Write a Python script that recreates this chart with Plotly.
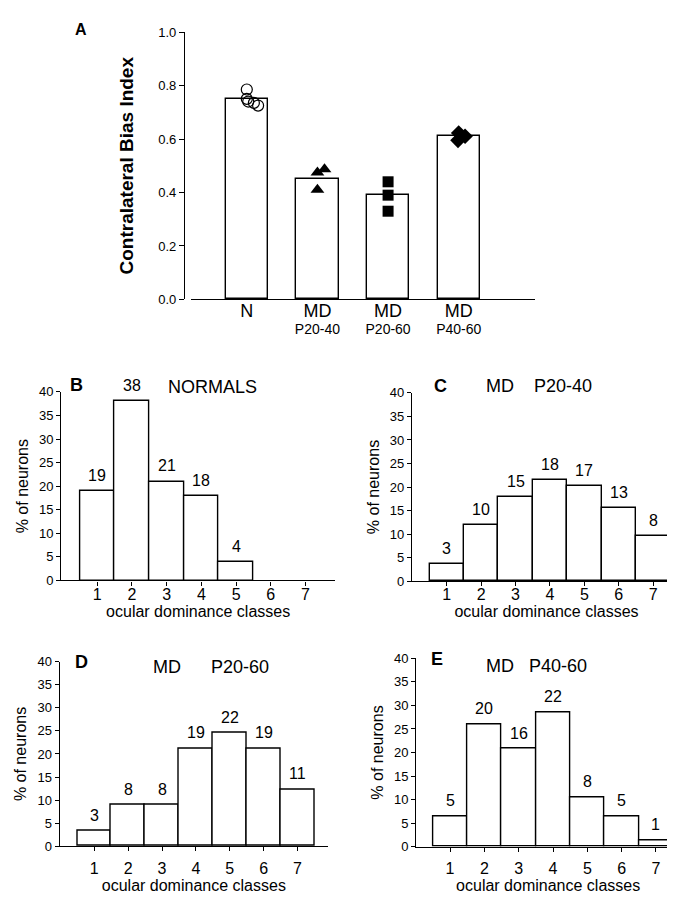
import plotly.graph_objects as go

# ---------------- data ----------------
# Panel A: contralateral bias index
cbi_groups = ["N", "MD", "MD", "MD"]
cbi_sublabels = ["", "P20-40", "P20-60", "P40-60"]
cbi_means = [0.75, 0.45, 0.39, 0.61]

cbi_n_vals = [0.785, 0.75, 0.74, 0.735, 0.725]
cbi_n_jitter = [0.0, 0.0, 0.02, 0.10, 0.16]
cbi_md2040_vals = [0.475, 0.487, 0.41]
cbi_md2040_jitter = [0.0, 0.10, 0.0]
cbi_md2060_vals = [0.44, 0.39, 0.33]
cbi_md2060_jitter = [0.0, 0.0, 0.0]
cbi_md4060_vals = [0.622, 0.61, 0.595]
cbi_md4060_jitter = [0.0, 0.09, -0.01]

# Panels B-E: ocular dominance distributions
od_classes = [1, 2, 3, 4, 5, 6, 7]
od_tick_labels = ["1", "2", "3", "4", "5", "6", "7"]

normals_pct = [19, 38, 21, 18, 4]
normals_counts = ["19", "38", "21", "18", "4"]

md2040_pct = [3.6, 11.9, 17.9, 21.5, 20.3, 15.6, 9.6]
md2040_counts = ["3", "10", "15", "18", "17", "13", "8"]

md2060_pct = [3.4, 9.0, 9.0, 21.2, 24.5, 21.2, 12.3]
md2060_counts = ["3", "8", "8", "19", "22", "19", "11"]

md4060_pct = [6.5, 26.0, 20.8, 28.6, 10.5, 6.5, 1.4]
md4060_counts = ["5", "20", "16", "22", "8", "5", "1"]

# ---------------- figure ----------------
FONT = "Arial, Liberation Sans, Helvetica, sans-serif"
W, H = 675, 900

def px(x):
    return x / W

def py(y):
    return 1 - y / H

fig = go.Figure()

bar_style = dict(marker=dict(color="white", line=dict(color="black", width=1.4)),
                 hoverinfo="skip", showlegend=False)

# Panel A bars
idx = list(range(len(cbi_means)))
fig.add_trace(go.Bar(x=idx, y=cbi_means, width=0.6, xaxis="x", yaxis="y", **bar_style))
# invisible trace so the sub-label axis is drawn
fig.add_trace(go.Scatter(x=idx, y=cbi_means, mode="markers", marker=dict(opacity=0),
                         xaxis="x6", yaxis="y", showlegend=False, hoverinfo="skip"))

def jit(base, offs):
    return [base + o for o in offs]

pts = [
    (0, cbi_n_vals, cbi_n_jitter, dict(symbol="circle-open", size=11, color="black",
                                        line=dict(color="black", width=1.2))),
    (1, cbi_md2040_vals, cbi_md2040_jitter, dict(symbol="triangle-up", size=12, color="black")),
    (2, cbi_md2060_vals, cbi_md2060_jitter, dict(symbol="square", size=11, color="black")),
    (3, cbi_md4060_vals, cbi_md4060_jitter, dict(symbol="diamond", size=12, color="black")),
]
for gi, vals, offs, mk in pts:
    fig.add_trace(go.Scatter(x=jit(gi, offs), y=vals, mode="markers", marker=mk,
                             xaxis="x", yaxis="y", showlegend=False, hoverinfo="skip",
                             cliponaxis=False))

# Panels B-E
panels = [
    ("x2", "y2", od_classes[:len(normals_pct)], normals_pct, normals_counts),
    ("x3", "y3", od_classes, md2040_pct, md2040_counts),
    ("x4", "y4", od_classes, md2060_pct, md2060_counts),
    ("x5", "y5", od_classes, md4060_pct, md4060_counts),
]
annotations = []
for xa, ya, xs, ys, labels in panels:
    fig.add_trace(go.Bar(x=xs, y=ys, width=1.0, xaxis=xa, yaxis=ya, **bar_style))
    for xv, yv, t in zip(xs, ys, labels):
        annotations.append(dict(x=xv, y=yv, xref=xa, yref=ya, text=t, showarrow=False,
                                yanchor="bottom", yshift=5,
                                font=dict(family=FONT, size=16, color="black")))

# ---------------- axes ----------------
line = dict(showline=True, linecolor="black", linewidth=1.3, zeroline=False,
            showgrid=False, mirror=False)

fig.update_layout(
    width=W, height=H,
    margin=dict(l=0, r=0, t=0, b=0),
    paper_bgcolor="white", plot_bgcolor="white",
    font=dict(family=FONT, color="black"),
    bargap=0,
    # Panel A
    xaxis=dict(domain=[px(183), px(527)], range=[-0.79, 4.08], anchor="y",
               tickvals=idx, ticktext=cbi_groups, ticks="",
               tickfont=dict(size=18), ticklabelstandoff=-5, **line),
    xaxis6=dict(domain=[px(183), px(527)], range=[-0.79, 4.08], anchor="y",
                overlaying="x", tickvals=idx, ticktext=cbi_sublabels, ticks="",
                tickfont=dict(size=14), ticklabelstandoff=20, showline=False,
                showgrid=False, zeroline=False),
    yaxis=dict(domain=[py(289.3), py(17.3)], range=[0, 1.0], anchor="free",
               position=px(176), tickvals=[0, 0.2, 0.4, 0.6, 0.8, 1.0],
               tickformat=".1f", ticks="outside", ticklen=5, tickcolor="black",
               tickfont=dict(size=13),
               title=dict(text="<b>Contralateral Bias Index</b>",
                          font=dict(size=19), standoff=18), **line),
)

bottom = {
    "2": dict(xd=[53.3, 327], yd=[575, 383.3], xr=[-0.036, 7.85], so=-5),
    "3": dict(xd=[404, 673], yd=[575.7, 384.3], xr=[-0.01, 7.81], so=-5),
    "4": dict(xd=[51.7, 320], yd=[845.3, 657.7], xr=[-0.02, 7.90], so=3),
    "5": dict(xd=[408.3, 672], yd=[845.7, 654.3], xr=[0.017, 7.70], so=3),
}
for k, d in bottom.items():
    fig.update_layout({
        f"xaxis{k}": dict(domain=[px(d["xd"][0]), px(d["xd"][1])], range=d["xr"],
                          anchor=f"y{k}", tickvals=od_classes, ticktext=od_tick_labels,
                          ticks="outside", ticklen=4, tickcolor="black",
                          tickfont=dict(size=16), ticklabelstandoff=d["so"],
                          title=dict(text="ocular dominance classes",
                                     font=dict(size=16), standoff=0), **line),
        f"yaxis{k}": dict(domain=[py(d["yd"][0]), py(d["yd"][1])], range=[0, 40],
                          anchor=f"x{k}", dtick=5, ticks="outside", ticklen=4,
                          tickcolor="black", tickfont=dict(size=13),
                          title=dict(text="% of neurons", font=dict(size=16), standoff=6),
                          **line),
    })

nb = "\u00a0"
panel_text = [
    ("<b>A</b>", 73, 15, 16),
    ("<b>B</b>", 68, 376, 18),
    ("NORMALS", 204, 378, 18),
    ("<b>C</b>", 432, 377, 18),
    ("MD" + nb * 4 + "P20-40", 531, 377, 18),
    ("<b>D</b>", 73, 658, 18),
    ("MD" + nb * 6 + "P20-60", 203, 663, 18),
    ("<b>E</b>", 429, 655, 18),
    ("MD" + nb * 3 + "P40-60", 528, 662, 18),
]
for t, x, y, s in panel_text:
    annotations.append(dict(x=px(x), y=py(y), xref="paper", yref="paper", text=t,
                            showarrow=False, xanchor="center", yanchor="middle",
                            font=dict(family=FONT, size=s, color="black")))

fig.update_layout(annotations=annotations)

fig.write_html("out.html")
